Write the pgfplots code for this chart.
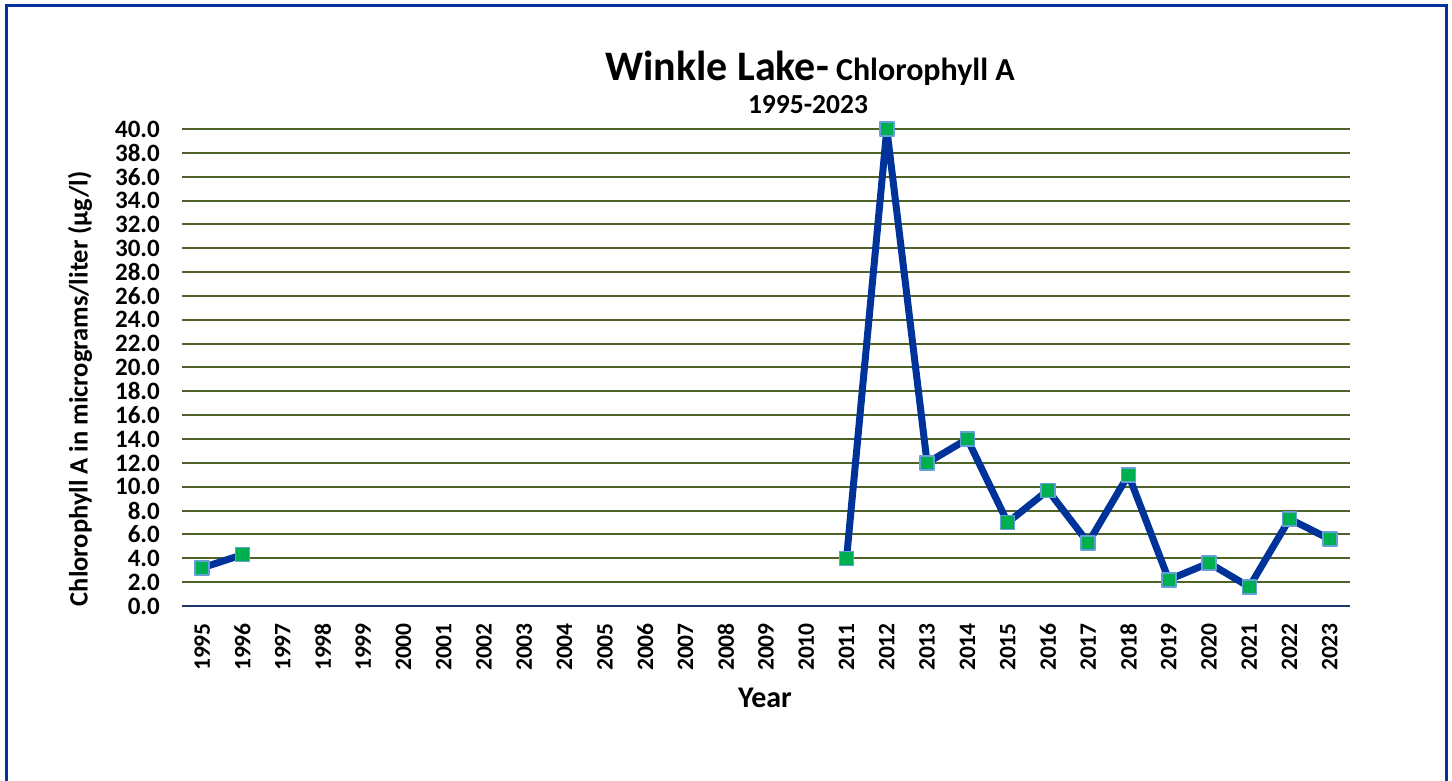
\documentclass[border=0pt]{standalone}
\usepackage{pgfplots}
\pgfplotsset{compat=1.18}
\usepackage{fontspec}
\setmainfont{Carlito}
\definecolor{frameblue}{RGB}{0,51,160}
\definecolor{gridgreen}{RGB}{79,98,40}
\definecolor{axisnavy}{RGB}{31,56,110}
\definecolor{lineblue}{RGB}{0,51,153}
\definecolor{markgreen}{RGB}{0,176,80}
\definecolor{markedge}{RGB}{100,160,215}
\begin{document}
\begin{tikzpicture}[x=1pt,y=1pt]
\useasboundingbox (0,0) rectangle (1452,781);
\fill[white] (0,0) rectangle (1452,781);
\draw[frameblue, line width=3pt] (6,-10) -- (6,775.5) -- (1446,775.5) -- (1446,-10);
\begin{axis}[
  at={(182pt,175pt)}, anchor=south west,
  scale only axis, width=1168pt, height=477pt,
  xmin=-0.5, xmax=28.5, ymin=0, ymax=40,
  xtick={0,...,28},
  xticklabels={1995,1996,1997,1998,1999,2000,2001,2002,2003,2004,2005,2006,2007,2008,2009,2010,2011,2012,2013,2014,2015,2016,2017,2018,2019,2020,2021,2022,2023},
  ytick={0,2,...,40},
  yticklabel style={font=\fontsize{25}{25}\selectfont\bfseries, anchor=east, inner sep=0pt, xshift=-22pt,
    /pgf/number format/.cd, fixed, fixed zerofill, precision=1, assume math mode=true},
  xticklabel style={font=\fontsize{23.5}{23.5}\selectfont\bfseries, rotate=90, anchor=east, inner sep=0pt},
  xticklabel shift=17pt,
  major tick length=0pt,
  ymajorgrids, xmajorgrids=false,
  grid style={gridgreen, line width=2pt},
  axis x line*=bottom, axis y line*=left,
  x axis line style={axisnavy, line width=2.5pt, -},
  y axis line style={draw=none},
  clip=false,
]
\addplot[lineblue, line width=7pt, line join=round, mark=square*, mark size=7pt,
  mark options={fill=markgreen, draw=markedge, line width=1.5pt}]
  coordinates {(0,3.2) (1,4.3)};
\addplot[lineblue, line width=7pt, line join=round, mark=square*, mark size=7pt,
  mark options={fill=markgreen, draw=markedge, line width=1.5pt}]
  coordinates {(16,4.0) (17,40.0) (18,12.0) (19,14.0) (20,7.0) (21,9.7) (22,5.3) (23,11.0) (24,2.2) (25,3.6) (26,1.6) (27,7.3) (28,5.6)};
\end{axis}
\node[anchor=base, inner sep=0pt] at (810,700) {\bfseries\fontsize{42}{42}\selectfont Winkle Lake-\fontsize{32}{32}\selectfont\ Chlorophyll A};
\node[anchor=base, inner sep=0pt] at (808,667) {\bfseries\fontsize{27.5}{27.5}\selectfont 1995-2023};
\node[anchor=base, inner sep=0pt] at (765,73) {\bfseries\fontsize{30}{30}\selectfont Year};
\node[rotate=90, inner sep=0pt] at (80,392) {\bfseries\fontsize{26.5}{26.5}\selectfont Chlorophyll A in micrograms/liter (µg/l)};
\end{tikzpicture}
\end{document}
